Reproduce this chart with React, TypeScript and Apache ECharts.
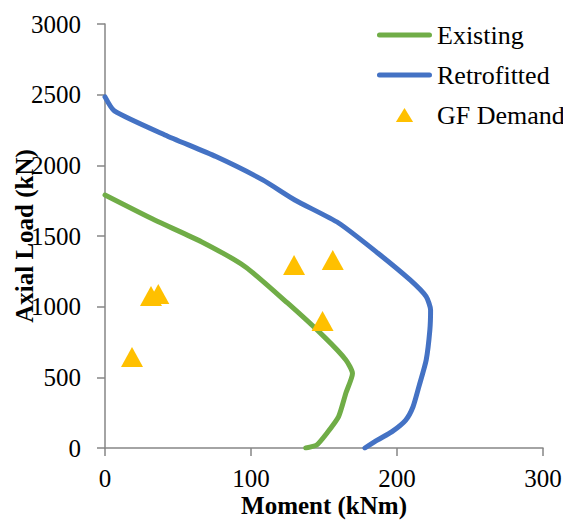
import React, { useEffect, useRef } from "react";
import * as echarts from "echarts";

const existingM = [0, 34, 66, 96, 125, 150, 165, 169.5, 165, 160, 152, 145, 137.5];
const existingP = [1790, 1613, 1460, 1283, 1026, 788, 623, 528, 389, 222, 105, 21, 0];

const retroM = [0, 6.4, 41, 76, 108, 130, 160, 187, 209, 220, 223, 222.5, 220, 215, 211, 206, 196.6, 186.8, 178];
const retroP = [2484, 2385, 2215, 2062, 1897, 1755, 1592, 1378, 1189, 1071, 977, 835, 623, 434, 292, 198, 116, 57, 0];

const demandM = [129.5, 156, 149, 31.5, 36.5, 18.5];
const demandP = [1295, 1330, 899, 1076, 1090, 644];

const xTicks = [0, 100, 200, 300];
const yTicks = [0, 500, 1000, 1500, 2000, 2500, 3000];

const FONT = "'Liberation Serif', 'Times New Roman', serif";
const AXIS_GRAY = "#868686";

const LINE_ICON = "path://M2.5,0 L52.5,0 A2.5,2.5 0 0 1 52.5,5 L2.5,5 A2.5,2.5 0 0 1 2.5,0 Z";
const TRI_ICON = "path://M8,0 L16,13 L0,13 Z";

export default function App() {
  const ref = useRef<HTMLDivElement>(null);
  useEffect(() => {
    if (!ref.current) return;
    const chart = echarts.init(ref.current, undefined, { renderer: "svg" });
    const zip = (a: number[], b: number[]) => a.map((v, i) => [v, b[i]]);
    chart.setOption({
      animation: false,
      textStyle: { fontFamily: FONT },
      grid: {
        left: 105,
        right: 20,
        top: 24,
        bottom: 78,
        containLabel: false,
        outerBoundsMode: "none",
      },
      legend: {
        orient: "vertical",
        left: 377,
        top: 22,
        padding: 0,
        itemWidth: 55,
        itemHeight: 14,
        itemGap: 14,
        symbolKeepAspect: true,
        textStyle: { fontFamily: FONT, fontSize: 26, color: "#000", padding: [0, 0, 0, 0] },
        data: [
          { name: "Existing", icon: LINE_ICON, itemStyle: { color: "#70AD47" } },
          { name: "Retrofitted", icon: LINE_ICON, itemStyle: { color: "#4472C4" } },
          { name: "GF Demand", icon: TRI_ICON, itemStyle: { color: "#FFC000" } },
        ],
      },
      xAxis: {
        type: "value",
        min: xTicks[0],
        max: xTicks[xTicks.length - 1],
        interval: 100,
        name: "Moment (kNm)",
        nameLocation: "middle",
        nameGap: 45,
        nameMoveOverlap: false,
        nameTextStyle: { fontFamily: FONT, fontSize: 25, fontWeight: "bold", color: "#000" },
        axisLine: { show: true, onZero: false, lineStyle: { color: AXIS_GRAY, width: 1.5 } },
        axisTick: { show: true, length: 8, lineStyle: { color: AXIS_GRAY, width: 1.5 } },
        axisLabel: { fontFamily: FONT, fontSize: 25, color: "#000", margin: 18, formatter: (v: number) => String(v) },
        splitLine: { show: false },
      },
      yAxis: {
        type: "value",
        min: yTicks[0],
        max: yTicks[yTicks.length - 1],
        interval: 500,
        name: "Axial Load (kN)",
        nameLocation: "middle",
        nameGap: 68,
        nameMoveOverlap: false,
        nameTextStyle: { fontFamily: FONT, fontSize: 25, fontWeight: "bold", color: "#000" },
        axisLine: { show: true, onZero: false, lineStyle: { color: AXIS_GRAY, width: 1.5 } },
        axisTick: { show: true, length: 8, lineStyle: { color: AXIS_GRAY, width: 1.5 } },
        axisLabel: { fontFamily: FONT, fontSize: 25, color: "#000", margin: 24, formatter: (v: number) => String(v) },
        splitLine: { show: false },
      },
      series: [
        {
          name: "Existing",
          type: "line",
          data: zip(existingM, existingP),
          symbol: "none",
          smooth: 0.2,
          lineStyle: { color: "#70AD47", width: 5, cap: "round", join: "round" },
          itemStyle: { color: "#70AD47" },
          z: 2,
        },
        {
          name: "Retrofitted",
          type: "line",
          data: zip(retroM, retroP),
          symbol: "none",
          smooth: 0.2,
          lineStyle: { color: "#4472C4", width: 5, cap: "round", join: "round" },
          itemStyle: { color: "#4472C4" },
          z: 2,
        },
        {
          name: "GF Demand",
          type: "scatter",
          data: zip(demandM, demandP),
          symbol: "triangle",
          symbolSize: [22, 20],
          itemStyle: { color: "#FFC000", opacity: 1 },
          z: 3,
        },
      ],
    });
    return () => chart.dispose();
  }, []);
  return (
    <div
      ref={ref}
      style={{ position: "fixed", left: 0, top: 0, width: 563, height: 526, background: "#fff" }}
    />
  );
}
